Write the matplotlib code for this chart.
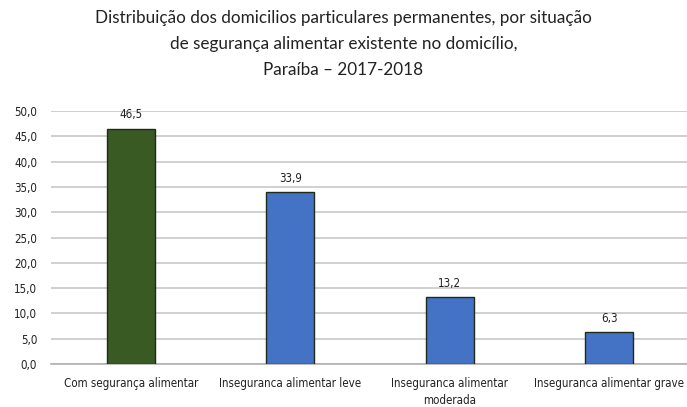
import matplotlib.pyplot as plt

categories = ["Com segurança alimentar", "Inseguranca alimentar leve",
              "Inseguranca alimentar\nmoderada", "Inseguranca alimentar grave"]
values = [46.5, 33.9, 13.2, 6.3]
colors = ["#3a5a24", "#4472c4", "#4472c4", "#4472c4"]
yticks = [0, 5, 10, 15, 20, 25, 30, 35, 40, 45, 50]

plt.rcParams['font.family'] = ['Lato', 'DejaVu Sans']
small = dict(family="DejaVu Sans", stretch="condensed", fontsize=8.3)

fig = plt.figure(figsize=(6.87, 4.07), dpi=100)
ax = fig.add_axes([51 / 687, 43 / 407, 638 / 687, 253 / 407])

x = range(len(values))
ax.bar(x, values, width=0.3, color=colors, edgecolor="#1f2a1a", linewidth=1.0, zorder=3)
for xi, v in zip(x, values):
    ax.text(xi, v + 1.5, f"{v:.1f}".replace(".", ","), ha="center", va="bottom",
            color="#222222", **small)

ax.set_xlim(-0.5, 3.5)
ax.set_ylim(0, 50)
ax.set_yticks(yticks)
ax.set_yticklabels([f"{t:.1f}".replace(".", ",") for t in yticks], **small)
ax.set_xticks(list(x))
ax.set_xticklabels(categories, linespacing=1.4, **small)
ax.yaxis.grid(True, color="#c8c8c8", linewidth=1.2, zorder=0)
ax.tick_params(length=0, colors="#222222")
ax.tick_params(axis="y", pad=10)
ax.tick_params(axis="x", pad=9)
for s in ["top", "right", "left"]:
    ax.spines[s].set_visible(False)
ax.spines["bottom"].set_color("#b0b0b0")
ax.spines["bottom"].set_linewidth(1.2)

fig.text(0.5, 0.975, "Distribuição dos domicilios particulares permanentes, por situação\n"
         "de segurança alimentar existente no domicílio,\nParaíba – 2017-2018",
         ha="center", va="top", fontsize=12.3, linespacing=1.75, color="#222222")

fig.savefig("out.png", dpi=100, facecolor="white")
